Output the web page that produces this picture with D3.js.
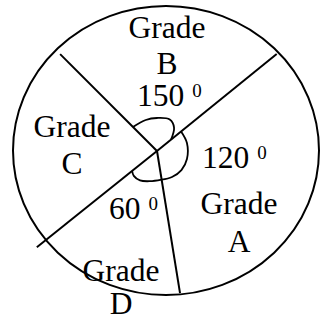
<!DOCTYPE html>
<html>
<head>
<meta charset="utf-8">
<script src="https://cdn.jsdelivr.net/npm/d3@7"></script>
<style>
  html, body { margin: 0; padding: 0; background: #fff; }
  svg { display: block; }
  text { font-family: "Liberation Serif", "Tinos", "Times New Roman", "DejaVu Serif", serif; fill: #000; }
</style>
</head>
<body>
<svg id="chart"></svg>
<script>
// sectors as labelled in the figure
const grades = ["A", "B", "C", "D"];
const sectorAngles = [120, 150, null, 60];   // degrees written on the figure

// spokes as drawn (degrees clockwise from 12 o'clock, length in px)
const spokeAngles = [315, 51, 231.3, 170.8];
const spokeLengths = [137, 154, 154, 144];

// hand drawn angle marks, read as [angle, radius] samples
const markB = [[315, 34], [340, 33], [0, 33], [22, 34], [36, 29], [51, 18]];
const markA = [[51, 31], [75, 31], [105, 31], [128, 31], [150, 30], [171, 29]];
const markD = [[171, 29], [193, 31], [210, 34], [223, 34], [231, 32]];

const W = 320, H = 320;
const svg = d3.select("#chart").attr("width", W).attr("height", H);

const deg = d3.scaleLinear().domain([0, 360]).range([0, 2 * Math.PI]);

// outline
svg.append("ellipse")
  .attr("cx", 166).attr("cy", 150.5)
  .attr("rx", 153).attr("ry", 144.5)
  .attr("fill", "none").attr("stroke", "#000").attr("stroke-width", 2);

const g = svg.append("g").attr("transform", "translate(157,151)");

// spokes
g.selectAll(".spoke")
  .data(spokeAngles)
  .enter()
  .append("line")
  .attr("class", "spoke")
  .attr("x1", 0).attr("y1", 0)
  .attr("x2", (a, i) => d3.pointRadial(deg(a), spokeLengths[i])[0])
  .attr("y2", (a, i) => d3.pointRadial(deg(a), spokeLengths[i])[1])
  .attr("stroke", "#000").attr("stroke-width", 2);

// angle marks (unwrap angles so the B mark runs over the top)
const radial = d3.lineRadial()
  .angle((d) => deg(d[0]))
  .radius((d) => d[1])
  .curve(d3.curveCatmullRom);

const unwrap = (pts) => {
  let prev = null;
  return pts.map(([a, r]) => {
    let x = a;
    if (prev != null) while (x < prev) x += 360;
    prev = x;
    return [x, r];
  });
};

g.selectAll(".mark")
  .data([markB, markA, markD])
  .enter()
  .append("path")
  .attr("class", "mark")
  .attr("d", (m) => radial(unwrap(m)))
  .attr("fill", "none").attr("stroke", "#000").attr("stroke-width", 1.8);

// grade labels
const gradePos = {
  A: [239, 214, 252],
  B: [167, 38, 74],
  C: [72, 137, 174],
  D: [121, 281, 314]
};
grades.forEach((gr) => {
  const p = gradePos[gr];
  const t = svg.append("text").attr("text-anchor", "middle").style("font-size", "31.5px");
  t.append("tspan").attr("x", p[0]).attr("y", p[1]).text("Grade");
  t.append("tspan").attr("x", p[0]).attr("y", p[2]).text(gr);
});

// angle labels with the small raised "0"
const anglePos = {A: [202, 168], B: [137, 106], D: [109, 219]};
grades.forEach((gr, i) => {
  if (sectorAngles[i] == null) return;
  const p = anglePos[gr];
  const t = svg.append("text").attr("x", p[0]).attr("y", p[1]).style("font-size", "31.5px");
  t.append("tspan").text(sectorAngles[i] + " ");
  t.append("tspan").attr("dy", -9).style("font-size", "19px").text("0");
});
</script>
</body>
</html>
